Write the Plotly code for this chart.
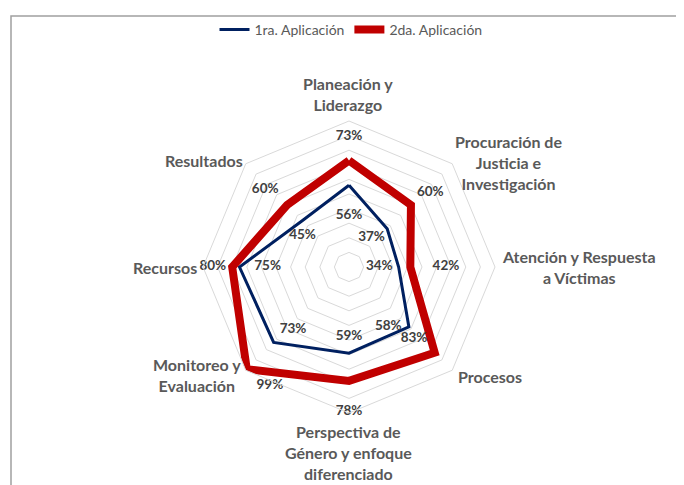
import plotly.graph_objects as go

categories = [
    "Planeación y<br>Liderazgo",
    "Procuración de<br>Justicia e<br>Investigación",
    "Atención y Respuesta<br>a Víctimas",
    "Procesos",
    "Perspectiva de<br>Género y enfoque<br>diferenciado",
    "Monitoreo y<br>Evaluación",
    "Recursos",
    "Resultados",
]
series_names = ["1ra. Aplicación", "2da. Aplicación"]
aplicacion_1 = [56, 37, 34, 58, 59, 73, 75, 45]
aplicacion_2 = [73, 60, 42, 83, 78, 99, 80, 60]

# page offset (browser body margin) and figure size
OFF = 8
W, H = 684 - OFF, 485 - OFF
cx, cy, R = 349, 267, 146  # polar center and radius in screen px


def px(x):
    return (x - OFF) / W


def py(y):
    return 1 - (y - OFF) / H


# label placement styles
pos_1 = ["bottom center", "bottom left", "middle left", "middle left",
         "top center", "top right", "middle right", "bottom center"]
size_1 = [36, 2, 8, 10, 14, 8, 22, 12]
pos_2 = ["top center", "top right", "middle right", "top left",
         "bottom center", "bottom right", "middle left", "top left"]
size_2 = [26, 8, 34, 10, 36, 14, 8, 12]

# category label anchor positions (screen px)
cat_xy = [(348, 94), (508, 162), (579, 267), (490, 376),
          (348, 452), (197, 375), (165, 267), (204, 160)]

fig = go.Figure()

theta = categories + [categories[0]]
for name, vals, color, width, pos, sz in [
    (series_names[0], aplicacion_1, "#002060", 3, pos_1, size_1),
    (series_names[1], aplicacion_2, "#C00000", 8, pos_2, size_2),
]:
    fig.add_trace(go.Scatterpolar(
        r=vals + [vals[0]],
        theta=theta,
        mode="lines+markers+text",
        name=name,
        line=dict(color=color, width=width),
        marker=dict(size=sz + [sz[0]], color="rgba(0,0,0,0)",
                    line=dict(width=0)),
        text=[f"{v}%" for v in vals] + [""],
        textposition=pos + [pos[0]],
        textfont=dict(family="Lato", size=13.5, color="#404040", weight="bold"),
        hoverinfo="skip",
    ))

for lab, (x, y) in zip(categories, cat_xy):
    fig.add_annotation(
        x=px(x), y=py(y), xref="paper", yref="paper",
        text=lab, showarrow=False, align="center",
        font=dict(family="Lato", size=16, color="#595959", weight="bold"),
        xanchor="center", yanchor="middle",
    )

fig.add_shape(type="rect", xref="paper", yref="paper",
              x0=px(11), x1=px(682), y0=py(495), y1=py(16),
              line=dict(color="#A0A0A0", width=1.5), layer="below")

fig.update_layout(
    width=W, height=H,
    margin=dict(l=0, r=0, t=0, b=0),
    paper_bgcolor="white",
    font=dict(family="Lato", color="#595959"),
    showlegend=True,
    legend=dict(orientation="h", x=px(351), y=py(30), xanchor="center",
                yanchor="middle", font=dict(size=14, color="#595959"),
                bgcolor="rgba(0,0,0,0)"),
    polar=dict(
        domain=dict(x=[px(cx - R), px(cx + R)], y=[py(cy + R), py(cy - R)]),
        bgcolor="white",
        gridshape="linear",
        radialaxis=dict(range=[0, 100], dtick=10, showticklabels=False,
                        ticks="", showline=False, gridcolor="#D9D9D9",
                        gridwidth=1),
        angularaxis=dict(rotation=90, direction="clockwise",
                         showticklabels=False, ticks="", showgrid=False,
                         showline=True, linecolor="#D9D9D9", linewidth=1),
    ),
)

fig.write_html("out.html")
